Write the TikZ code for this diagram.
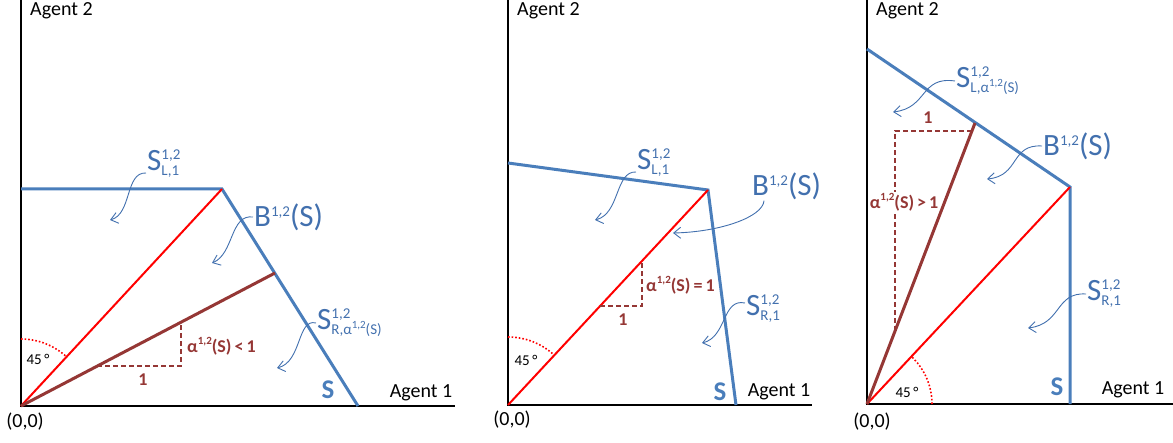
\documentclass[tikz,border=0pt]{standalone}
\usepackage{fontspec}
\setmainfont{Carlito}
\usetikzlibrary{arrows.meta}
\definecolor{sblue}{RGB}{74,126,187}
\definecolor{lblue}{RGB}{66,112,174}
\definecolor{brn}{RGB}{149,55,53}
\newcommand{\lblsmall}{\fontsize{15}{15}\selectfont}
\newcommand{\upr}[1]{\raisebox{0.45em}{\fontsize{11}{11}\selectfont #1}}
\newcommand{\setlab}[3]{#1\makebox[0pt][l]{\raisebox{11pt}{\lblsmall #2}}\raisebox{-5pt}{\lblsmall #3}}
\newcommand{\blab}{B\raisebox{10pt}{\lblsmall 1,2}(S)}

\begin{document}
\begin{tikzpicture}[x=1pt,y=1pt,
  axis/.style={line width=2.6pt},
  bnd/.style={sblue,line width=3pt},
  diag/.style={red,line width=2pt},
  ray/.style={brn,line width=3pt},
  guide/.style={brn,line width=1.1pt,dash pattern=on 5pt off 3pt},
  ang/.style={red,line width=1.6pt,dotted},
  curl/.style={lblue,line width=0.9pt,-{Straight Barb[length=7pt,width=11pt]}},
  lab/.style={lblue,inner sep=1pt,font=\fontsize{31}{33}\selectfont},
  txt/.style={black,inner sep=0pt,font=\fontsize{20}{22}\selectfont},
  bigs/.style={sblue,inner sep=0pt,font=\fontsize{27}{29}\selectfont\bfseries},
  slope/.style={brn,inner sep=1pt,font=\fontsize{18}{20}\selectfont\bfseries},
  deg/.style={black,inner sep=0pt,font=\fontsize{15}{16}\selectfont}]
\useasboundingbox (0,0) rectangle (1173,442);

% left: alpha < 1
\coordinate (O1) at (21,36);
\coordinate (K1) at (222,253);
\coordinate (R1) at (275,169);
\draw[axis] (21,445) -- (O1) -- (455,36);
\draw[bnd] (21,253) -- (K1) -- (358,36);
\draw[diag] (O1) -- (K1);
\draw[ray] (O1) -- (R1);
\draw[guide] (97,76) -- (181,76) -- (181,120);
\draw[ang] (O1) ++(0,67) arc[start angle=90,end angle=47,radius=67pt];
\node[deg] (dega) at (38,83) {45\,°};
\node[slope] (onea) at (143,62) {1};
\node[slope,anchor=west] (alfa) at (186,96) {α\upr{1,2}(S)\,<\,1};
\node[txt,anchor=west] (agya) at (30,431) {Agent 2};
\node[txt] (agxa) at (421,49) {Agent 1};
\node[txt] (orga) at (25,20) {(0,0)};
\node[bigs] (sa) at (328,52) {S};
\node[lab,anchor=base west] (sla) at (146,271) {\setlab{S}{1,2}{L,1}};
\node[lab,anchor=west] (ba) at (253,225) {\blab};
\node[lab,anchor=west] (sra) at (316,119) {\setlab{S}{1,2}{R,α\upr{1,2}(S)}};
\coordinate (slatip) at (110,222);
\coordinate (batip) at (212,179);
\coordinate (sratip) at (277,74);
\draw[curl] ([yshift=-2pt]sla.base west) .. controls (125,270) and (132,228) .. (slatip);
\draw[curl] (ba.west) .. controls (230,228) and (234,188) .. (batip);
\draw[curl] (sra.west) .. controls (297,124) and (302,80) .. (sratip);

% middle: alpha = 1
\coordinate (O2) at (508,37);
\coordinate (K2) at (708,252);
\draw[axis] (508,445) -- (O2) -- (812,37);
\draw[bnd] (508,279) -- (K2) -- (736,37);
\draw[diag] (O2) -- (K2);
\draw[guide] (600,136) -- (642,136) -- (642,181);
\draw[ang] (O2) ++(0,68) arc[start angle=90,end angle=47,radius=68pt];
\node[deg] (degb) at (526,82) {45\,°};
\node[slope] (oneb) at (623,122) {1};
\node[slope,anchor=west] (alfb) at (645,157) {α\upr{1,2}(S)\,=\,1};
\node[txt,anchor=west] (agyb) at (517,431) {Agent 2};
\node[txt] (agxb) at (779,50) {Agent 1};
\node[txt] (orgb) at (512,22) {(0,0)};
\node[bigs] (sb) at (720,50) {S};
\node[lab,anchor=base west] (slb) at (636,272) {\setlab{S}{1,2}{L,1}};
\node[lab,anchor=west] (bb) at (751,256) {\blab};
\node[lab,anchor=west] (srb) at (745,133) {\setlab{S}{1,2}{R,1}};
\coordinate (slbtip) at (595,222);
\coordinate (bbtip) at (673,209);
\coordinate (srbtip) at (702,99);
\draw[curl] ([yshift=-2pt]slb.base west) .. controls (615,271) and (620,228) .. (slbtip);
\draw[curl] ([xshift=13pt]bb.south west) .. controls (763,225) and (720,210) .. (bbtip);
\draw[curl] ([yshift=6pt]srb.west) .. controls (722,144) and (727,105) .. (srbtip);

% right: alpha > 1
\coordinate (O3) at (867,38);
\coordinate (K3) at (1070,255);
\coordinate (R3) at (975,319);
\draw[axis] (867,445) -- (O3) -- (1173,38);
\draw[bnd] (867,393) -- (K3) -- (1070,38);
\draw[diag] (O3) -- (K3);
\draw[ray] (O3) -- (R3);
\draw[guide] (895,111) -- (895,311) -- (972,311);
\draw[ang] (O3) ++(65,0) arc[start angle=0,end angle=47,radius=65pt];
\node[deg] (degc) at (907,50) {45\,°};
\node[slope] (onec) at (928,324) {1};
\node[slope,fill=white] (alfc) at (904,240) {α\upr{1,2}(S)\,>\,1};
\node[txt,anchor=west] (agyc) at (876,431) {Agent 2};
\node[txt] (agxc) at (1133,52) {Agent 1};
\node[txt] (orgc) at (872,20) {(0,0)};
\node[bigs] (sc) at (1057,55) {S};
\node[lab,anchor=west] (slc) at (955,361) {\setlab{S}{1,2}{L,α\upr{1,2}(S)}};
\node[lab,anchor=west] (bc) at (1042,296) {\blab};
\node[lab,anchor=west] (src) at (1086,148) {\setlab{S}{1,2}{R,1}};
\coordinate (slctip) at (893,330);
\coordinate (bctip) at (987,263);
\coordinate (srctip) at (1028,114);
\draw[curl] (slc.west) .. controls (920,366) and (928,334) .. (slctip);
\draw[curl] (bc.west) .. controls (1010,298) and (1020,266) .. (bctip);
\draw[curl] (src.west) .. controls (1055,150) and (1062,118) .. (srctip);
\end{tikzpicture}
\end{document}
